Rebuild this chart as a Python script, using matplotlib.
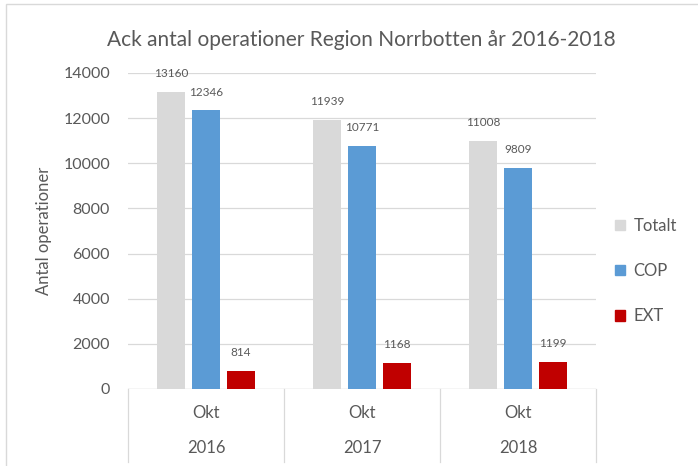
import numpy as np
import matplotlib
matplotlib.use("Agg")
import matplotlib.pyplot as plt
from matplotlib.patches import Rectangle, Patch
from matplotlib.lines import Line2D

# data
years = ["2016", "2017", "2018"]
month = "Okt"
series = ["Totalt", "COP", "EXT"]
totalt = [13160, 11939, 11008]
cop = [12346, 10771, 9809]
ext = [814, 1168, 1199]
colors = ["#D9D9D9", "#5B9BD5", "#C00000"]
yticks = [0, 2000, 4000, 6000, 8000, 10000, 12000, 14000]

plt.rcParams["font.family"] = ["Lato", "DejaVu Sans"]
txt = "#595959"

fig = plt.figure(figsize=(6.98, 4.66), dpi=100)
fig.patches.append(Rectangle((6 / 698, -0.1), 1.2, 1 - 4 / 466 + 0.1,
                             transform=fig.transFigure, fill=False,
                             edgecolor="#D9D9D9", linewidth=1))
ax = fig.add_axes([128 / 698, 1 - 389 / 466, 468 / 698, 316 / 466])

x = np.arange(len(years))
width = 0.18
step = 0.224
for i, (vals, name) in enumerate(zip([totalt, cop, ext], series)):
    pos = x + (i - 1) * step
    ax.bar(pos, vals, width, color=colors[i], label=name, zorder=3)
    for p, v in zip(pos, vals):
        ax.annotate(str(v), (p, v), xytext=(0, 13), textcoords="offset points",
                    ha="center", va="center", fontsize=8.5, color=txt)

ax.set_xlim(-0.5, len(years) - 0.5)
ax.set_ylim(0, 14000)
ax.set_yticks(yticks)
ax.set_yticklabels([str(t) for t in yticks], fontsize=11.5, color=txt)
ax.tick_params(axis="y", length=0, pad=13)
ax.set_xticks([])
ax.grid(axis="y", color="#D9D9D9", linewidth=0.9, zorder=0)
for s in ax.spines.values():
    s.set_visible(False)
ax.axhline(0, color="#D9D9D9", linewidth=0.9, zorder=2)

# two-level category axis
for b in np.arange(len(years) + 1) - 0.5:
    ax.add_line(Line2D([b, b], [0, -73 / 316], transform=ax.get_xaxis_transform(),
                       color="#D9D9D9", linewidth=0.9, clip_on=False))
for xi, yr in zip(x, years):
    ax.text(xi, -24 / 316, month, transform=ax.get_xaxis_transform(),
            ha="center", va="center", fontsize=12, color=txt)
    ax.text(xi, -59 / 316, yr, transform=ax.get_xaxis_transform(),
            ha="center", va="center", fontsize=12, color=txt)

ax.set_ylabel("Antal operationer", fontsize=12, color=txt, labelpad=8)

fig.text(0.518, 1 - 40 / 466, "Ack antal operationer Region Norrbotten år 2016-2018",
         ha="center", va="center", fontsize=15, color=txt)

handles = [Patch(facecolor=c, edgecolor=c) for c in colors]
leg = fig.legend(handles, series, loc="center left",
                 bbox_to_anchor=(600 / 698, 1 - 271 / 466), frameon=False,
                 fontsize=12, labelspacing=1.75, handlelength=0.6,
                 handleheight=0.6, handletextpad=0.5)
for t in leg.get_texts():
    t.set_color(txt)

fig.savefig("out.png", dpi=100)
